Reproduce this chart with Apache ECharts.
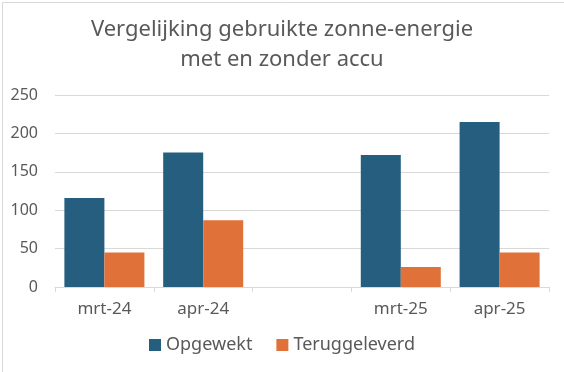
<!DOCTYPE html>
<html><head><meta charset="utf-8">
<script src="https://cdn.jsdelivr.net/npm/echarts@6/dist/echarts.min.js"></script>
<style>html,body{margin:0;padding:0;background:#fff}#c{width:564px;height:372px}</style>
</head><body><div id="c"></div>
<script>
var categories = ['mrt-24', 'apr-24', '', 'mrt-25', 'apr-25'];
var opgewekt = [116, 175, null, 172, 215];
var teruggeleverd = [45, 87, null, 26, 45];
var yTicks = [0, 50, 100, 150, 200, 250];
var seriesNames = ['Opgewekt', 'Teruggeleverd'];
var titleLines = ['Vergelijking gebruikte zonne-energie', 'met en zonder accu'];

var FONT = 'Noto Sans';
var chart = echarts.init(document.getElementById('c'), null, {renderer: 'canvas'});
chart.setOption({
  animation: false,
  backgroundColor: '#fff',
  title: {
    text: titleLines.join('\n'),
    left: 'center', top: 10,
    textStyle: {fontFamily: FONT, fontSize: 22, fontWeight: 'normal', color: '#595959', lineHeight: 30}
  },
  legend: {
    bottom: 13, left: 'center',
    itemWidth: 12, itemHeight: 12, itemGap: 24,
    icon: 'rect',
    textStyle: {fontFamily: FONT, fontSize: 18, color: '#595959'},
    data: seriesNames
  },
  grid: {left: 55, right: 15, top: 95, bottom: 85, containLabel: false},
  xAxis: {
    type: 'category', data: categories,
    axisLine: {lineStyle: {color: '#d9d9d9'}},
    axisTick: {show: true, length: 5, interval: 0, lineStyle: {color: '#d9d9d9'}},
    axisLabel: {fontFamily: FONT, fontSize: 17, color: '#595959', margin: 14, interval: 0}
  },
  yAxis: {
    type: 'value', min: 0, max: 250, interval: 50,
    axisLine: {show: false}, axisTick: {show: false},
    splitLine: {lineStyle: {color: '#d9d9d9'}},
    axisLabel: {fontFamily: FONT, fontSize: 16, color: '#595959', margin: 17}
  },
  series: [
    {name: seriesNames[0], type: 'bar', data: opgewekt, itemStyle: {color: '#255E7F'}, barGap: '0%', barCategoryGap: '19%'},
    {name: seriesNames[1], type: 'bar', data: teruggeleverd, itemStyle: {color: '#E07239'}}
  ],
  graphic: [{
    type: 'rect', left: 0, top: 0,
    shape: {x: 0.5, y: 0.5, width: 563, height: 371},
    style: {fill: null, stroke: '#d9d9d9', lineWidth: 1}, silent: true
  }]
});
</script></body></html>
